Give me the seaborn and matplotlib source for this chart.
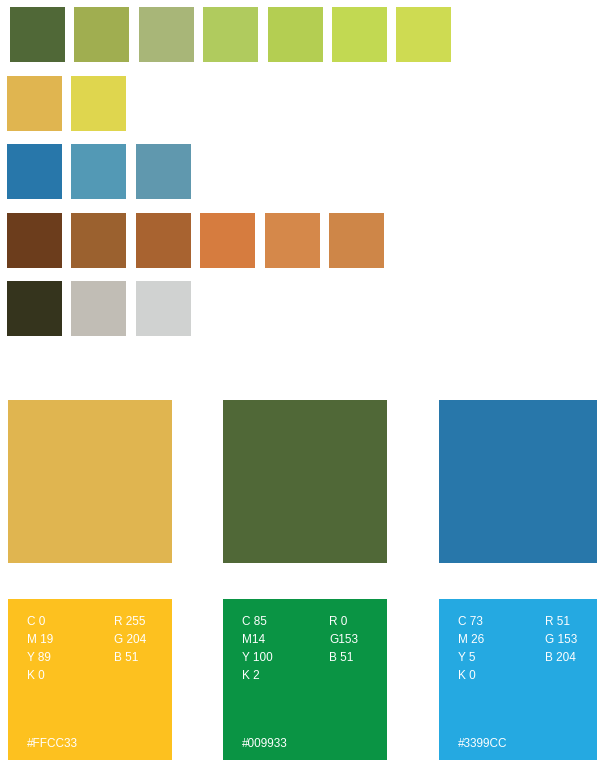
import matplotlib.pyplot as plt
import seaborn as sns

# swatch rows (top part of the sheet)
row_greens = ['#506837', '#A0AE50', '#A8B678', '#B0CB5E', '#B4CE52', '#C2D952', '#CEDB52']
row_yellows = ['#E0B550', '#DFD64E']
row_blues = ['#2877AA', '#5399B5', '#6098AE']
row_browns = ['#6C3D1C', '#9B612F', '#A86330', '#D67C3F', '#D5884A', '#CE8648']
row_neutrals = ['#35341D', '#C1BDB5', '#D0D2D1']
swatch_rows = [row_greens, row_yellows, row_blues, row_browns, row_neutrals]

# big squares and spec cards
big_colors = ['#E0B550', '#506837', '#2877AA']
card_colors = ['#FDC11F', '#0A9444', '#25A9E1']
card_cmyk = [['C 0', 'M 19', 'Y 89', 'K 0'],
             ['C 85', 'M14', 'Y 100', 'K 2'],
             ['C 73', 'M 26', 'Y 5', 'K 0']]
card_rgb = [['R 255', 'G 204', 'B 51'],
            ['R 0', 'G153', 'B 51'],
            ['R 51', 'G 153', 'B 204']]
card_hex = ['#FFCC33', '#009933', '#3399CC']

sns.set_theme(style='white')
plt.rcParams['font.family'] = ['Liberation Sans', 'DejaVu Sans']

fig = plt.figure(figsize=(5.97, 7.60), dpi=100)
ax = fig.add_axes([0, 0, 1, 1])
ax.set_xlim(0, 597)
ax.set_ylim(760, 0)
ax.axis('off')

# small swatches
row_top = [7, 76, 144, 213, 281]
row_left = [10, 7, 7, 7, 7]
sw = 55
pitch = 64.4
for r, colors in enumerate(swatch_rows):
    xs = [row_left[r] + i * pitch for i in range(len(colors))]
    ax.bar(xs, [sw] * len(colors), width=sw, bottom=row_top[r],
           align='edge', color=colors, linewidth=0)

# big squares + cards
col_left = [8, 223, 439]
big = 164
ax.bar(col_left, [163] * 3, width=big, bottom=400, align='edge',
       color=big_colors, linewidth=0)
ax.bar(col_left, [170] * 3, width=big, bottom=599, align='edge',
       color=card_colors, linewidth=0)

line_y = [622, 640, 658, 676]
fs = 8.5
for i, x0 in enumerate(col_left):
    for j, t in enumerate(card_cmyk[i]):
        ax.text(x0 + 19, line_y[j], t, color='white', fontsize=fs, va='center')
    for j, t in enumerate(card_rgb[i]):
        ax.text(x0 + 106, line_y[j], t, color='white', fontsize=fs, va='center')
    ax.text(x0 + 19, 744, card_hex[i], color='white', fontsize=fs, va='center')

fig.savefig('out.png', dpi=100)
